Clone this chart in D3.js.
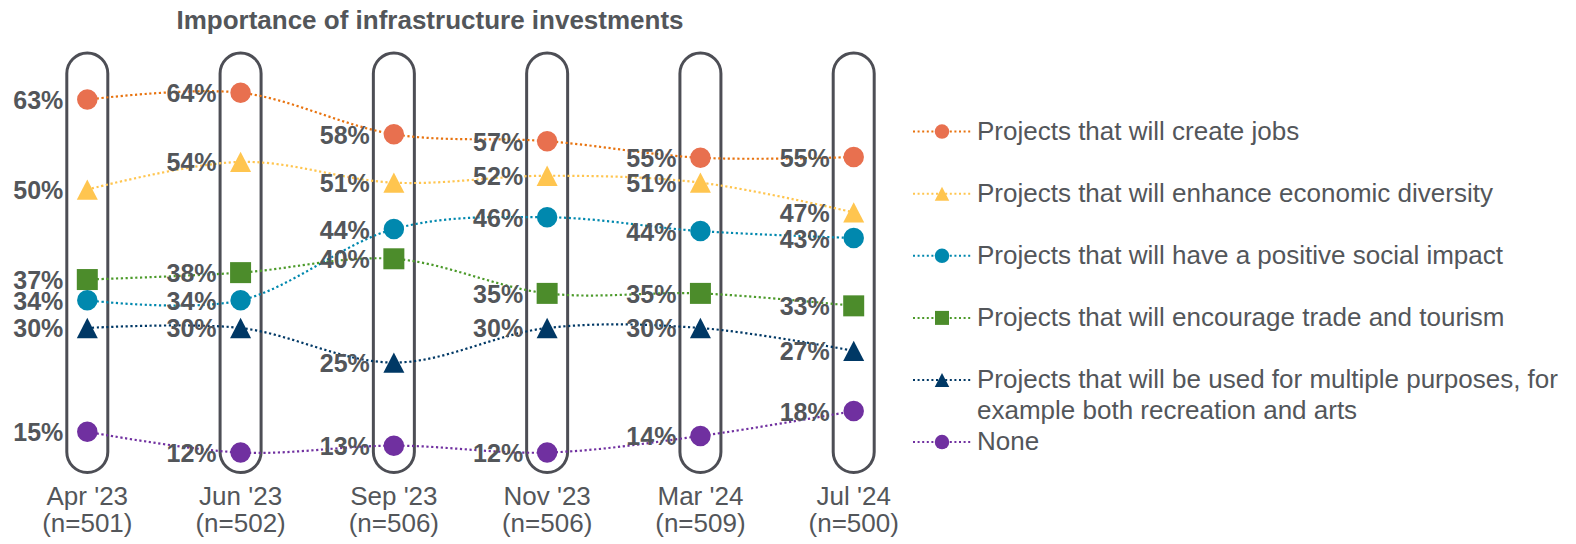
<!DOCTYPE html>
<html>
<head>
<meta charset="utf-8">
<script src="https://cdn.jsdelivr.net/npm/d3@7"></script>
<style>
  html, body { margin: 0; padding: 0; background: #fff; }
  svg { display: block; font-family: "Liberation Sans", Arial, sans-serif; }
</style>
</head>
<body>
<svg id="chart" width="1576" height="544"></svg>
<script>
// survey waves
var waves = ["Apr '23", "Jun '23", "Sep '23", "Nov '23", "Mar '24", "Jul '24"];
var sampleSizes = ["(n=501)", "(n=502)", "(n=506)", "(n=506)", "(n=509)", "(n=500)"];

// share of respondents (%)
var createJobs = [63, 64, 58, 57, 54.6, 54.7];
var economicDiversity = [50, 54, 51, 52, 51, 46.7];
var socialImpact = [34, 34, 44.3, 46, 44, 43];
var tradeTourism = [37, 38, 40, 35, 35, 33.2];
var multiplePurposes = [30, 30, 25, 30, 30, 26.7];
var none = [15, 12, 13, 12, 14.4, 18];

var seriesNames = [
  ["Projects that will create jobs"],
  ["Projects that will enhance economic diversity"],
  ["Projects that will have a positive social impact"],
  ["Projects that will encourage trade and tourism"],
  ["Projects that will be used for multiple purposes, for", "example both recreation and arts"],
  ["None"]
];

var series = [
  { name: seriesNames[0], values: createJobs, marker: "#E8704F", line: "#E8730F", shape: "circle" },
  { name: seriesNames[1], values: economicDiversity, marker: "#FFC54F", line: "#FFC54F", shape: "triangle" },
  { name: seriesNames[2], values: socialImpact, marker: "#0088AE", line: "#0088AE", shape: "circle" },
  { name: seriesNames[3], values: tradeTourism, marker: "#4C8C2B", line: "#4C9A2A", shape: "square" },
  { name: seriesNames[4], values: multiplePurposes, marker: "#003865", line: "#003865", shape: "triangle" },
  { name: seriesNames[5], values: none, marker: "#7030A0", line: "#7030A0", shape: "circle" }
];

var textColor = "#53565A";
var svg = d3.select("#chart");

var x = d3.scalePoint().domain(waves).range([87.3, 853.7]);
var y = d3.scaleLinear().domain([0, 64]).range([535.6, 92.7]);

// marker path builders, centred on the bounding box
function shapePath(shape, s) {
  if (shape == "circle") {
    var r = s / 2;
    return "M" + (-r) + ",0A" + r + "," + r + " 0 1,0 " + r + ",0A" + r + "," + r + " 0 1,0 " + (-r) + ",0Z";
  }
  if (shape == "square") {
    var h = s / 2;
    return "M" + (-h) + "," + (-h) + "H" + h + "V" + h + "H" + (-h) + "Z";
  }
  var w = s / 2, t = s * 0.97 / 2;
  return "M0," + (-t) + "L" + w + "," + t + "L" + (-w) + "," + t + "Z";
}

// title
svg.append("text")
  .attr("x", 430).attr("y", 29)
  .attr("text-anchor", "middle")
  .style("font-size", "26px").style("font-weight", "bold")
  .style("fill", textColor)
  .text("Importance of infrastructure investments");

// capsules around each wave
svg.append("g").selectAll("rect").data(waves).join("rect")
  .attr("x", function(d) { return x(d) - 20.5; })
  .attr("y", 53)
  .attr("width", 41)
  .attr("height", 419.5)
  .attr("rx", 20.5).attr("ry", 20.5)
  .attr("fill", "none")
  .attr("stroke", "#4D4E55")
  .attr("stroke-width", 3);

// lines
var line = d3.line()
  .x(function(d, i) { return x(waves[i]); })
  .y(function(d) { return y(d); })
  .curve(d3.curveCatmullRom.alpha(0));

svg.append("g").selectAll("path").data(series).join("path")
  .attr("d", function(d) { return line(d.values); })
  .attr("fill", "none")
  .attr("stroke", function(d) { return d.line; })
  .attr("stroke-width", 2.2)
  .attr("stroke-dasharray", "2.2,2.6");

// markers
var markerSize = { circle: 20.5, square: 21, triangle: 21 };
series.forEach(function(s) {
  svg.append("g").selectAll("path").data(s.values).join("path")
    .attr("transform", function(d, i) { return "translate(" + x(waves[i]) + "," + y(d) + ")"; })
    .attr("d", shapePath(s.shape, markerSize[s.shape]))
    .attr("fill", s.marker);
});

// value labels
series.forEach(function(s) {
  svg.append("g").selectAll("text").data(s.values).join("text")
    .attr("x", function(d, i) { return x(waves[i]) - 24; })
    .attr("y", function(d) { return y(d) + 9.5; })
    .attr("text-anchor", "end")
    .style("font-size", "25px").style("font-weight", "bold")
    .style("fill", textColor)
    .text(function(d) { return Math.round(d) + "%"; });
});

// x axis labels
var xl = svg.append("g").selectAll("text").data(waves).join("text")
  .attr("x", function(d) { return x(d); })
  .attr("text-anchor", "middle")
  .style("font-size", "26px")
  .style("fill", textColor);
xl.append("tspan").attr("x", function(d) { return x(d); }).attr("y", 505).text(function(d) { return d; });
xl.append("tspan").attr("x", function(d) { return x(d); }).attr("y", 532).text(function(d, i) { return sampleSizes[i]; });

// legend
var legend = svg.append("g").selectAll("g").data(series).join("g")
  .attr("transform", function(d, i) { return "translate(0," + (131.6 + i * 62.1) + ")"; });

legend.append("line")
  .attr("x1", 913).attr("x2", 971).attr("y1", 0).attr("y2", 0)
  .attr("stroke", function(d) { return d.line; })
  .attr("stroke-width", 2)
  .attr("stroke-dasharray", "2,2.6");

legend.append("path")
  .attr("transform", "translate(942,0)")
  .attr("d", function(d) { return shapePath(d.shape, d.shape == "square" ? 14 : 14.5); })
  .attr("fill", function(d) { return d.marker; });

legend.append("text")
  .style("font-size", "26px")
  .style("fill", textColor)
  .each(function(d) {
    var t = d3.select(this);
    d.name.forEach(function(part, j) {
      t.append("tspan").attr("x", 977).attr("y", 8 + j * 30.7).text(part);
    });
  });
</script>
</body>
</html>
